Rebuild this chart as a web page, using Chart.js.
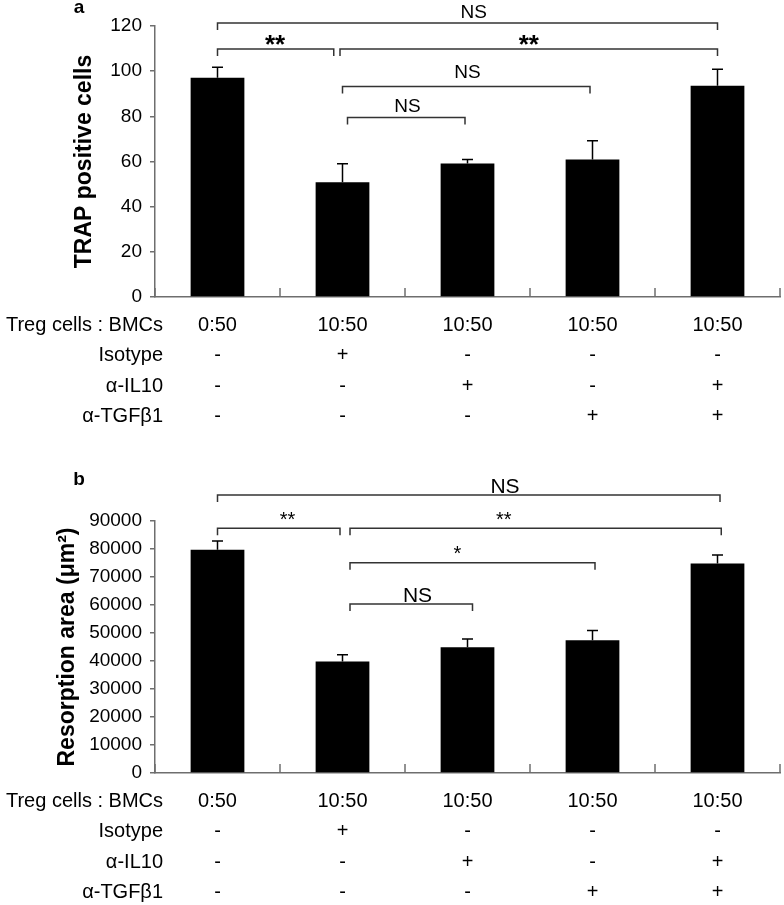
<!DOCTYPE html>
<html>
<head>
<meta charset="utf-8">
<script src="https://cdn.jsdelivr.net/npm/chart.js@4.4.1/dist/chart.umd.min.js"></script>
<style>
  body { margin: 0; background: #fff; width: 784px; height: 905px; overflow: hidden; position: relative; }
  canvas { position: absolute; left: 0; }
  #chartA { top: 0; }
  #chartB { top: 452px; }
</style>
</head>
<body>
<canvas id="chartA" width="784" height="452"></canvas>
<canvas id="chartB" width="784" height="453"></canvas>
<script>
// table rows under the bars
const rowNames = ['Treg cells : BMCs', 'Isotype', 'α-IL10', 'α-TGFβ1'];
const ratios   = ['0:50', '10:50', '10:50', '10:50', '10:50'];
const isotype  = ['-', '+', '-', '-', '-'];
const antiIL10 = ['-', '-', '+', '-', '+'];
const antiTGF  = ['-', '-', '-', '+', '+'];

// panel a: TRAP positive cells
const trapMean = [97.1, 50.8, 59.1, 60.9, 93.5];
const trapErr  = [4.6, 8.2, 1.8, 8.3, 7.4];

// panel b: resorption area
const areaMean = [79700, 39800, 44900, 47400, 74800];
const areaErr  = [3200, 2400, 3000, 3500, 3100];

// significance brackets (from/to = bar index, y = data value of the line)
const trapBrackets = [
  { from: 0, to: 4, y: 121.3, text: 'NS', tx: 2.05, ty: 126.4, font: '19px' },
  { from: 0, to: 0.93, y: 109.8, text: '**', tx: 0.46, ty: 114.9, font: 'bold 26px' },
  { from: 0.98, to: 4, y: 109.8, text: '**', tx: 2.49, ty: 114.9, font: 'bold 26px' },
  { from: 1, to: 2.98, y: 93.2, text: 'NS', tx: 2.0, ty: 100.2, font: '19px' },
  { from: 1.04, to: 1.98, y: 79.5, text: 'NS', tx: 1.52, ty: 85.1, font: '19px' }
];
const areaBrackets = [
  { from: 0, to: 4.02, y: 99270, text: 'NS', tx: 2.30, ty: 102870, font: '21px' },
  { from: 0, to: 0.98, y: 87390, text: '**', tx: 0.56, ty: 92490, font: '20px' },
  { from: 1.06, to: 4.03, y: 87390, text: '**', tx: 2.29, ty: 92490, font: '20px' },
  { from: 1.06, to: 3.02, y: 75120, text: '*', tx: 1.92, ty: 80360, font: '20px' },
  { from: 1.06, to: 2.04, y: 60390, text: 'NS', tx: 1.60, ty: 63600, font: '21px' }
];

const FONT = "'Liberation Sans', Arial, sans-serif";
const AXIS = '#6e6e6e';
const LINE_H = 30.5;
const LABEL_PAD = 13;

const labels = ratios.map((r, i) => [r, isotype[i], antiIL10[i], antiTGF[i]]);

function overlay(means, errs, brackets, panel, panelY) {
  return {
    id: 'overlay',
    afterDraw(chart) {
      const ctx = chart.ctx;
      const xs = chart.scales.x, ys = chart.scales.y;
      const meta = chart.getDatasetMeta(0);
      ctx.save();

      // error bars, upper half only
      ctx.strokeStyle = '#000';
      ctx.lineWidth = 1.5;
      errs.forEach((e, i) => {
        const bar = meta.data[i];
        const top = ys.getPixelForValue(means[i] + e);
        ctx.beginPath();
        ctx.moveTo(bar.x, bar.y);
        ctx.lineTo(bar.x, top);
        ctx.moveTo(bar.x - 5.5, top);
        ctx.lineTo(bar.x + 5.5, top);
        ctx.stroke();
      });

      // small inward ticks between categories on the x axis
      ctx.strokeStyle = AXIS;
      ctx.lineWidth = 1.5;
      for (let i = 0; i <= means.length; i++) {
        const px = xs.getPixelForValue(i - 0.5);
        ctx.beginPath();
        ctx.moveTo(px, ys.bottom);
        ctx.lineTo(px, ys.bottom - 9);
        ctx.stroke();
      }

      // brackets
      ctx.strokeStyle = '#333';
      ctx.fillStyle = '#000';
      ctx.textAlign = 'center';
      ctx.textBaseline = 'alphabetic';
      brackets.forEach(b => {
        const x1 = xs.getPixelForValue(b.from), x2 = xs.getPixelForValue(b.to);
        const py = ys.getPixelForValue(b.y);
        ctx.beginPath();
        ctx.moveTo(x1, py + 7);
        ctx.lineTo(x1, py);
        ctx.lineTo(x2, py);
        ctx.lineTo(x2, py + 7);
        ctx.stroke();
        const size = parseFloat(b.font.replace('bold', ''));
        const shift = /^\*+$/.test(b.text) ? 0.58 : 0.36;
        ctx.font = b.font + ' ' + FONT;
        ctx.fillText(b.text, xs.getPixelForValue(b.tx), ys.getPixelForValue(b.ty) + shift * size);
      });

      // row headers of the table
      ctx.font = '20px ' + FONT;
      ctx.textAlign = 'right';
      ctx.textBaseline = 'middle';
      rowNames.forEach((n, r) => {
        ctx.fillText(n, xs.left + 8, xs.top + LABEL_PAD + LINE_H * (r + 0.5));
      });

      // panel letter
      ctx.font = 'bold 19px ' + FONT;
      ctx.textAlign = 'center';
      ctx.textBaseline = 'alphabetic';
      ctx.fillText(panel, 79, panelY);
      ctx.restore();
    }
  };
}

function makeChart(id, means, errs, brackets, panel, panelY, yOpts, titleText, titlePad, pad, xHeight) {
  return new Chart(document.getElementById(id), {
    type: 'bar',
    data: {
      labels: labels,
      datasets: [{
        data: means,
        backgroundColor: '#000',
        borderWidth: 0,
        barPercentage: 0.43,
        categoryPercentage: 1
      }]
    },
    options: {
      responsive: false,
      animation: false,
      devicePixelRatio: 1,
      layout: { padding: pad },
      plugins: { legend: { display: false }, tooltip: { enabled: false } },
      scales: {
        x: {
          grid: { display: false, drawTicks: false },
          border: { display: true, color: AXIS, width: 1.5 },
          ticks: {
            color: '#000',
            font: { family: FONT, size: 20, lineHeight: LINE_H / 20 },
            padding: LABEL_PAD,
            autoSkip: false,
            maxRotation: 0
          },
          afterFit: s => { s.height = xHeight; }
        },
        y: {
          min: 0,
          max: yOpts.max,
          grid: { drawOnChartArea: false, drawTicks: true, tickLength: 5, color: AXIS, lineWidth: 1.5 },
          border: { color: AXIS, width: 1.5 },
          ticks: {
            stepSize: yOpts.step,
            color: '#000',
            padding: 8,
            font: { family: FONT, size: 19 },
            callback: v => String(v)
          },
          title: {
            display: true,
            text: titleText,
            color: '#000',
            font: { family: FONT, size: 23, weight: 'bold' },
            padding: { top: titlePad, bottom: 0 }
          },
          afterFit: s => { s.width = 155; }
        }
      }
    },
    plugins: [overlay(means, errs, brackets, panel, panelY)]
  });
}

makeChart('chartA', trapMean, trapErr, trapBrackets, 'a', 13,
  { max: 120, step: 20 }, 'TRAP positive cells', 71,
  { top: 26, bottom: 15, left: 0, right: 4 }, 140);

makeChart('chartB', areaMean, areaErr, areaBrackets, 'b', 33,
  { max: 90000, step: 10000 }, 'Resorption area (μm²)', 54,
  { top: 69, bottom: 7, left: 0, right: 4 }, 125);
</script>
</body>
</html>
